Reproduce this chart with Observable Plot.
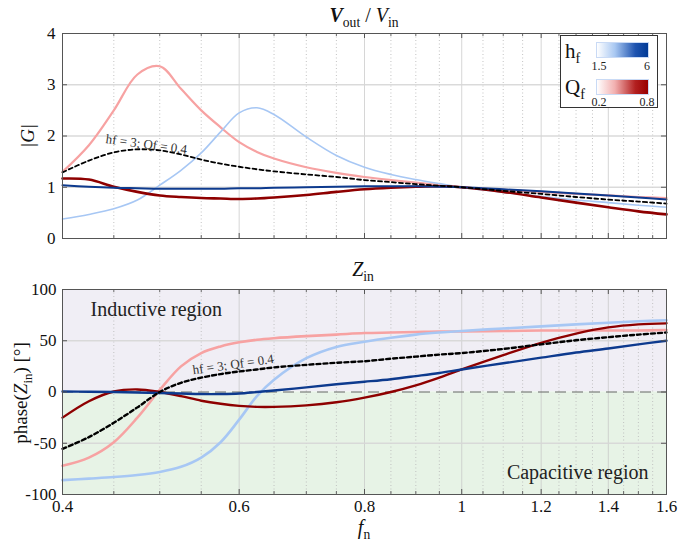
<!DOCTYPE html>
<html><head><meta charset="utf-8">
<script src="https://cdn.jsdelivr.net/npm/d3@7"></script>
<script src="https://cdn.jsdelivr.net/npm/@observablehq/plot@0.6"></script>
<style>
body{margin:0;background:#fff;font-family:"Liberation Serif",serif;}
#fig{position:relative;width:678px;height:548px;overflow:hidden;background:#fff;}
.abs{position:absolute;white-space:nowrap;color:#111;line-height:1;}
.sub{font-size:68%;position:relative;top:0.38em;}
#topc,#botc{position:absolute;left:0;}
#topc{top:25px;} #botc{top:281px;}
#topc svg text,#botc svg text{font-family:"Liberation Serif",serif;}
.legend{position:absolute;left:560px;top:35px;width:96px;height:71px;border:1px solid #333;background:#fff;z-index:5;}
.bar{position:absolute;height:16px;border:1px solid #c9daf5;box-sizing:border-box;}
.ll{position:absolute;font-size:12px;transform:translateX(-50%);color:#222;line-height:1;}
</style></head><body><div id="fig">
<div id="topc"></div><div id="botc"></div>
<div class="abs" style="left:364px;top:5px;transform:translateX(-50%);font-size:20px;"><b><i>V</i></b><span class="sub">out</span> / <i>V</i><span class="sub">in</span></div>
<div class="abs" style="left:27px;top:136px;transform:translate(-50%,-50%) rotate(-90deg);font-size:19px;"><i>|G|</i></div>
<div class="abs" style="left:363px;top:259px;transform:translateX(-50%);font-size:20px;"><i>Z</i><span class="sub">in</span></div>
<div class="abs" style="left:20px;top:393px;transform:translate(-50%,-50%) rotate(-90deg);font-size:19px;">phase(<i>Z</i><span class="sub">in</span>) [°]</div>
<div class="abs" style="left:364px;top:517px;transform:translateX(-50%);font-size:20px;"><i>f</i><span class="sub">n</span></div>
<div class="legend">
  <div class="abs" style="left:4px;top:5px;font-size:21px;">h<span class="sub">f</span></div>
  <div class="bar" style="left:35px;top:6px;width:53px;background:linear-gradient(to right,#ffffff,#a9c8f2 35%,#1f54b0 75%,#003a96);"></div>
  <div class="ll" style="left:38px;top:24px;">1.5</div>
  <div class="ll" style="left:86px;top:24px;">6</div>
  <div class="abs" style="left:4px;top:41px;font-size:21px;">Q<span class="sub">f</span></div>
  <div class="bar" style="left:35px;top:43px;width:53px;background:linear-gradient(to right,#ffffff,#f2b0b0 35%,#b32020 75%,#990000);"></div>
  <div class="ll" style="left:38px;top:60px;">0.2</div>
  <div class="ll" style="left:86px;top:60px;">0.8</div>
</div>
</div>
<script>
// normalized frequency samples
const fn = [0.40,0.425,0.45,0.475,0.50,0.525,0.55,0.575,0.60,0.625,0.65,0.70,0.75,0.80,0.85,0.90,0.95,1.00,1.10,1.20,1.30,1.40,1.50,1.60];

// |G| values
const gainQf02 = [1.30,1.82,2.50,3.20,3.36,2.92,2.50,2.17,1.88,1.69,1.56,1.39,1.28,1.20,1.14,1.09,1.04,1.00,0.95,0.91,0.87,0.84,0.81,0.79];
const gainHf15 = [0.38,0.47,0.58,0.75,1.04,1.33,1.67,2.08,2.45,2.55,2.42,1.98,1.62,1.39,1.25,1.15,1.07,1.00,0.90,0.82,0.75,0.70,0.65,0.61];
const gainRef  = [1.29,1.52,1.68,1.74,1.72,1.64,1.54,1.46,1.40,1.35,1.31,1.25,1.20,1.14,1.10,1.06,1.03,1.00,0.93,0.87,0.81,0.76,0.72,0.68];
const gainQf08 = [1.17,1.15,1.01,0.91,0.84,0.81,0.79,0.78,0.77,0.78,0.80,0.85,0.91,0.96,0.99,1.01,1.02,1.00,0.91,0.80,0.70,0.61,0.53,0.47];
const gainHf6  = [1.04,1.01,0.99,0.98,0.97,0.97,0.97,0.97,0.98,0.98,0.99,1.00,1.01,1.02,1.02,1.02,1.01,1.00,0.96,0.92,0.88,0.84,0.80,0.76];

// phase(Z_in) values, degrees
const phaseQf02 = [-72,-64,-49,-25,2,25,38,44.5,48.5,51,52.5,54.5,56,57.5,58,58.5,59,59,59.5,60,60,60,60,60.5];
const phaseHf15 = [-86,-84.5,-83,-81,-78,-73,-64,-49,-27,-4,12,33,44,49,53,56,58,59.5,62,64,66,67.5,69,70];
const phaseRef  = [-55.5,-44,-30,-15,0,9,14,17.5,20,22,24,26.5,28.5,30,32.5,34.5,36.5,38,42,46.5,50.5,53.5,56,58];
const phaseQf08 = [-25,-9,0.5,2.5,0,-4,-8.5,-11.5,-13.5,-14.5,-14.5,-13,-10,-5.5,0,6.5,14,22,36,48,57,63,66,67];
const phaseHf6  = [0.5,0.3,0,-0.5,-1,-1.5,-2,-2,-1.5,0,1.5,4.5,7.5,10,12.5,15.5,18.5,22,28,33.5,38.5,42.5,46.5,50];

// axis ticks
const majorTicks = [0.4,0.6,0.8,1,1.2,1.4,1.6];
const minorTicks = [0.45,0.5,0.55,0.65,0.7,0.75,0.85,0.9,0.95,1.05,1.1,1.15,1.25,1.3,1.35,1.45,1.5,1.55];
const gainTicks = [0,1,2,3,4];
const phaseTicks = [-100,-50,0,50,100];
const annotation = ["hf = 3; Qf = 0.4"];
const regionNames = ["Inductive region","Capacitive region"];
const regionBounds = [[0,100],[-100,0]];

const seriesStyles = [
  {gain: gainQf02, phase: phaseQf02, color:"#f7a2a2", wTop:2.2, wBot:2.6},
  {gain: gainHf15, phase: phaseHf15, color:"#a7c7f4", wTop:1.6, wBot:2.6},
  {gain: gainQf08, phase: phaseQf08, color:"#8e0000", wTop:2.6, wBot:2.4},
  {gain: gainHf6,  phase: phaseHf6,  color:"#0d3a8e", wTop:2.0, wBot:2.4},
  {gain: gainRef,  phase: phaseRef,  color:"#000000", wTop:1.8, wBot:2.4, dash:"4,3"}
];

const W = 678, ML = 62, MR = 12, PH = 205;
const FF = "Liberation Serif";
const font = {fontFamily: FF, fontSize:"17px", color:"#111", background:"transparent", overflow:"visible"};
const xDomain = [majorTicks[0], majorTicks[majorTicks.length-1]];
const fmt = d => String(d);

function commonMarks(gridY) {
  return [
    Plot.gridX(majorTicks.slice(1,-1), {stroke:"#c4c4c4", strokeOpacity:0.7}),
    Plot.ruleX(minorTicks, {stroke:"#bdbdbd", strokeDasharray:"1,2.5", strokeOpacity:0.9}),
    Plot.gridY(gridY, {stroke:"#d6d6d6", strokeOpacity:0.9, strokeWidth:1.3})
  ];
}
function tickMarks(yTicks) {
  return [
    Plot.ruleX(majorTicks, {insetTop: PH-5, stroke:"#555"}),
    Plot.ruleX(majorTicks, {insetBottom: PH-5, stroke:"#555"}),
    Plot.ruleX(minorTicks, {insetTop: PH-3, stroke:"#666"}),
    Plot.ruleX(minorTicks, {insetBottom: PH-3, stroke:"#666"}),
    Plot.ruleY(yTicks, {insetRight: W-ML-MR-5, stroke:"#555"}),
    Plot.ruleY(yTicks, {insetLeft: W-ML-MR-5, stroke:"#555"}),
    Plot.frame({stroke:"#555"})
  ];
}
function lines(field, wKey) {
  return seriesStyles.map(s => Plot.line(fn.map((f,i)=>({f, v:s[field][i]})), {
    x:"f", y:"v", stroke:s.color, strokeWidth:s[wKey], strokeDasharray:s.dash, curve:"catmull-rom"
  }));
}

const iTop = fn.indexOf(0.475);
const topChart = Plot.plot({
  width: W, height: 8+PH+12, marginLeft: ML, marginRight: MR, marginTop: 8, marginBottom: 12,
  style: font,
  x: {type:"log", domain: xDomain, axis: null},
  y: {domain: [gainTicks[0], gainTicks[gainTicks.length-1]]},
  marks: [
    ...commonMarks(gainTicks.slice(1,-1)),
    ...lines("gain","wTop"),
    Plot.text(annotation, {x: () => fn[iTop], y: () => gainRef[iTop], dx: 9, dy: -5, rotate: 7.6,
      fontSize: 13, fill:"#333", fontFamily: FF}),
    ...tickMarks(gainTicks),
    Plot.axisY(gainTicks, {tickSize:0, tickPadding:7, label:null, tickFormat: fmt, fontFamily: FF, fontSize: 17})
  ]
});
document.getElementById("topc").append(topChart);

const iBot = fn.indexOf(0.6);
const botChart = Plot.plot({
  width: W, height: 8+PH+40, marginLeft: ML, marginRight: MR, marginTop: 8, marginBottom: 40,
  style: font,
  x: {type:"log", domain: xDomain},
  y: {domain: [phaseTicks[0], phaseTicks[phaseTicks.length-1]]},
  marks: [
    Plot.rect(regionBounds, {x1: () => xDomain[0], x2: () => xDomain[1], y1: d=>d[0], y2: d=>d[1],
      fill: (d,i) => i === 0 ? "#f0eef5" : "#e7f3e6"}),
    ...commonMarks([-50,50]),
    Plot.ruleY([0], {stroke:"#666", strokeDasharray:"11,6", strokeWidth:1.2}),
    ...lines("phase","wBot"),
    Plot.text(annotation, {x: () => fn[iBot], y: () => phaseRef[iBot], dx: -6, dy: -7, rotate: -8,
      fontSize: 13, fill:"#333", fontFamily: FF}),
    Plot.text([regionNames[0]], {frameAnchor:"top-left", dx: 28, dy: 12, fontSize: 20, fill:"#222", textAnchor:"start", lineAnchor:"top", fontFamily: FF}),
    Plot.text([regionNames[1]], {frameAnchor:"bottom-right", dx: -18, dy: -16, fontSize: 20, fill:"#222", textAnchor:"end", lineAnchor:"bottom", fontFamily: FF}),
    ...tickMarks(phaseTicks),
    Plot.axisY(phaseTicks, {tickSize:0, tickPadding:6, label:null, tickFormat: fmt, fontFamily: FF, fontSize: 17}),
    Plot.axisX(majorTicks, {tickSize:0, tickPadding:5, label:null, tickFormat: fmt, fontFamily: FF, fontSize: 17})
  ]
});
document.getElementById("botc").append(botChart);
</script>
</body></html>
